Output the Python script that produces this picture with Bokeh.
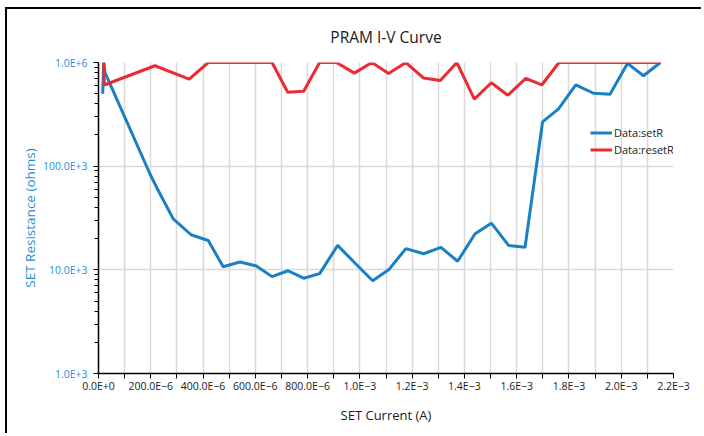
from bokeh.plotting import figure
from bokeh.models import FixedTicker, CustomJSTickFormatter, Range1d, Spacer
from bokeh.layouts import column, row
from bokeh.embed import file_html
from bokeh.resources import INLINE

# ---- data (x in amperes, y in ohms) ----
set_x = [1.6e-5, 2.0e-5, 2.5e-5, 1.97e-4, 2.23e-4, 2.86e-4, 3.54e-4, 4.20e-4,
         4.77e-4, 5.41e-4, 6.04e-4, 6.64e-4, 7.25e-4, 7.85e-4, 8.46e-4, 9.15e-4,
         9.83e-4, 1.049e-3, 1.110e-3, 1.176e-3, 1.244e-3, 1.310e-3, 1.374e-3,
         1.441e-3, 1.503e-3, 1.569e-3, 1.632e-3, 1.699e-3, 1.760e-3, 1.826e-3,
         1.894e-3, 1.957e-3, 2.024e-3, 2.085e-3, 2.150e-3]
set_r = [5.0e5, 1.0e6, 8.0e5, 8.4e4, 6.2e4, 3.1e4, 2.18e4, 1.92e4,
         1.07e4, 1.19e4, 1.09e4, 8.6e3, 9.8e3, 8.3e3, 9.2e3, 1.72e4,
         1.15e4, 7.85e3, 1.0e4, 1.6e4, 1.43e4, 1.65e4, 1.21e4,
         2.23e4, 2.82e4, 1.72e4, 1.65e4, 2.67e5, 3.57e5, 6.07e5,
         5.05e5, 4.94e5, 9.8e5, 7.46e5, 1.0e6]

reset_x = [2.0e-5, 2.2e-5, 2.16e-4, 3.47e-4, 4.20e-4, 6.64e-4, 7.24e-4, 7.85e-4,
           8.46e-4, 9.10e-4, 9.79e-4, 1.046e-3, 1.110e-3, 1.176e-3, 1.244e-3,
           1.308e-3, 1.371e-3, 1.438e-3, 1.503e-3, 1.566e-3, 1.635e-3, 1.696e-3,
           1.762e-3, 2.150e-3]
reset_r = [1.0e6, 6.07e5, 9.3e5, 6.9e5, 1.0e6, 1.0e6, 5.16e5, 5.27e5,
           1.0e6, 1.0e6, 7.9e5, 1.0e6, 7.85e5, 1.0e6, 7.08e5,
           6.7e5, 1.0e6, 4.43e5, 6.38e5, 4.83e5, 7.03e5, 6.07e5,
           1.0e6, 1.0e6]

x_major_ticks = [k * 1e-4 for k in range(0, 23)]
x_tick_labels = ["0.0E+0", "200.0E\u22126", "400.0E\u22126", "600.0E\u22126",
                 "800.0E\u22126", "1.0E\u22123", "1.2E\u22123", "1.4E\u22123",
                 "1.6E\u22123", "1.8E\u22123", "2.0E\u22123", "2.2E\u22123"]
y_major_ticks = [1e3, 1e4, 1e5, 1e6]
y_minor_ticks = [m * 10 ** e for e in (3, 4, 5) for m in range(2, 10)]
y_tick_labels = ["1.0E+3", "10.0E+3", "100.0E+3", "1.0E+6"]

BLUE_LINE = "#1b7fc4"
BLUE_TEXT = "#1f8fd8"
RED_LINE = "#ec2a31"
FONT = "Open Sans"

p = figure(width=696, height=426, y_axis_type="log",
           x_range=Range1d(0, 2.2e-3), y_range=Range1d(1e3, 1e6),
           output_backend="svg", toolbar_location=None,
           title="PRAM I-V Curve",
           min_border_left=91, min_border_right=30,
           min_border_top=52, min_border_bottom=62)
p.styles = {"border-left": "2px solid black", "border-top": "2px solid black"}

p.title.align = "center"
p.title.text_font = FONT
p.title.text_font_size = "15.5px"
p.title.text_font_style = "normal"
p.title.text_color = "#1a1a1a"
p.title.standoff = 29

p.outline_line_color = None
p.background_fill_color = "white"
p.border_fill_color = "white"

# x axis
xa = p.xaxis[0]
xa.ticker = FixedTicker(ticks=x_major_ticks, minor_ticks=[])
xa.formatter = CustomJSTickFormatter(args=dict(labels=x_tick_labels), code="""
    const k = Math.round(tick / 1e-4);
    return (k % 2 == 0) ? labels[k / 2] : "";
""")
xa.axis_label = "SET Current (A)"
xa.axis_label_text_font = FONT
xa.axis_label_text_font_size = "13px"
xa.axis_label_text_font_style = "normal"
xa.axis_label_text_color = "#1a1a1a"
xa.axis_label_standoff = 10
xa.major_label_text_font = FONT
xa.major_label_text_font_size = "10.5px"
xa.major_label_text_color = "#1a1a1a"
xa.major_label_standoff = 0
xa.axis_line_color = "black"
xa.axis_line_width = 1.5
xa.major_tick_line_color = "black"
xa.major_tick_in = 0
xa.major_tick_out = 5
xa.minor_tick_line_color = None

# y axis
ya = p.yaxis[0]
ya.ticker = FixedTicker(ticks=y_major_ticks, minor_ticks=y_minor_ticks)
ya.formatter = CustomJSTickFormatter(args=dict(labels=y_tick_labels), code="""
    const i = Math.round(Math.log10(tick)) - 3;
    return labels[i];
""")
ya.axis_label = "SET Resistance (ohms)"
ya.axis_label_text_font = FONT
ya.axis_label_text_font_size = "13.5px"
ya.axis_label_text_font_style = "normal"
ya.axis_label_text_color = BLUE_TEXT
ya.axis_label_standoff = 1
ya.major_label_text_font = FONT
ya.major_label_text_font_size = "10.5px"
ya.major_label_text_color = BLUE_TEXT
ya.major_label_standoff = 6
ya.axis_line_color = "black"
ya.axis_line_width = 1.5
ya.major_tick_line_color = "black"
ya.major_tick_in = 0
ya.major_tick_out = 5
ya.minor_tick_line_color = "black"
ya.minor_tick_in = 0
ya.minor_tick_out = 4

p.xgrid.ticker = FixedTicker(ticks=x_major_ticks)
p.ygrid.ticker = FixedTicker(ticks=y_major_ticks)
p.xgrid.grid_line_color = "#d9d9d9"
p.ygrid.grid_line_color = "#d9d9d9"
p.xgrid.grid_line_width = 1.5
p.ygrid.grid_line_width = 1.5

p.line(set_x, set_r, line_color=BLUE_LINE, line_width=3, legend_label="Data:setR")
p.line(reset_x, reset_r, line_color=RED_LINE, line_width=3, legend_label="Data:resetR")

lg = p.legend[0]
lg.location = (492, 215)
lg.background_fill_alpha = 0
lg.border_line_alpha = 0
lg.padding = 0
lg.margin = 0
lg.spacing = 0
lg.glyph_width = 22
lg.glyph_height = 17
lg.label_height = 17
lg.label_standoff = 2
lg.label_text_font = FONT
lg.label_text_font_size = "11px"
lg.label_text_color = "#1a1a1a"

layout = column(Spacer(height=7), row(Spacer(width=5), p), spacing=0)

open("out.html", "w").write(file_html(layout, INLINE))
